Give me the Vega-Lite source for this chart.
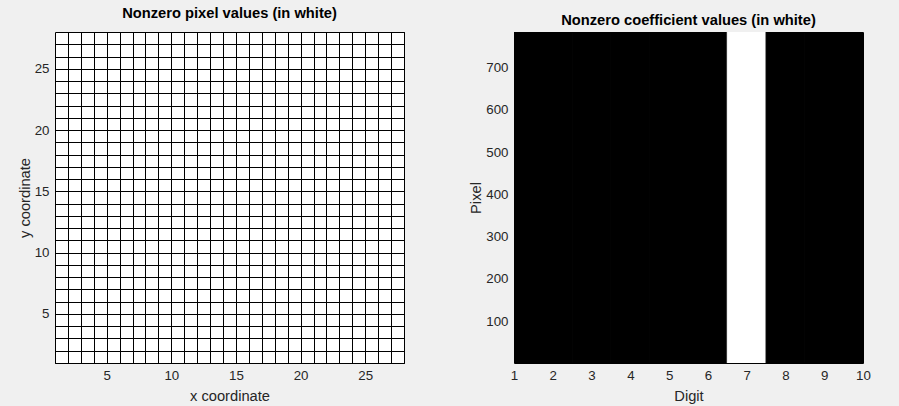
{
  "$schema": "https://vega.github.io/schema/vega-lite/v6.json",
  "background": "#f0f0f0",
  "padding": {"left": 16, "top": 5, "right": 37, "bottom": 5},
  "spacing": 110,
  "bounds": "flush",
  "config": {
    "view": {"stroke": "black", "strokeWidth": 1},
    "axis": {
      "labelFont": "Liberation Sans",
      "labelFontSize": 13.3,
      "labelColor": "#262626",
      "titleFont": "Liberation Sans",
      "titleFontSize": 14.7,
      "titleFontWeight": "normal",
      "titleColor": "#262626",
      "ticks": false,
      "tickSize": 0,
      "domain": false,
      "labelFlush": false,
      "labelOverlap": false,
      "labelPadding": 5
    },
    "axisY": {"labelPadding": 6, "titlePadding": 2},
    "axisX": {"titlePadding": 7},
    "title": {"font": "Liberation Sans", "fontSize": 14.7, "fontWeight": "bold", "color": "black", "offset": 0}
  },
  "hconcat": [
    {
      "width": 349,
      "height": 331,
      "title": "Nonzero pixel values (in white)",
      "data": {"values": [{"x": 1, "x2": 28, "y": 1, "y2": 28, "value": 1}]},
      "mark": {"type": "rect", "fill": "white", "stroke": null},
      "encoding": {
        "x": {
          "field": "x", "type": "quantitative",
          "scale": {"domain": [1, 28], "nice": false, "zero": false},
          "axis": {
            "title": "x coordinate",
            "values": [1,2,3,4,5,6,7,8,9,10,11,12,13,14,15,16,17,18,19,20,21,22,23,24,25,26,27,28],
            "labelExpr": "datum.value % 5 == 0 ? datum.label : ''",
            "grid": true, "gridColor": "black", "gridOpacity": 1, "gridWidth": 1, "zindex": 1
          }
        },
        "x2": {"field": "x2"},
        "y": {
          "field": "y", "type": "quantitative",
          "scale": {"domain": [1, 28], "nice": false, "zero": false},
          "axis": {
            "title": "y coordinate",
            "values": [1,2,3,4,5,6,7,8,9,10,11,12,13,14,15,16,17,18,19,20,21,22,23,24,25,26,27,28],
            "labelExpr": "datum.value % 5 == 0 ? datum.label : ''",
            "grid": true, "gridColor": "black", "gridOpacity": 1, "gridWidth": 1, "zindex": 1
          }
        },
        "y2": {"field": "y2"}
      }
    },
    {
      "width": 349,
      "height": 331,
      "title": "Nonzero coefficient values (in white)",
      "data": {"values": [
        {"digit": 1, "lo": 0.5, "hi": 1.5, "p0": 0.5, "p1": 784.5, "nonzero": 0},
        {"digit": 2, "lo": 1.5, "hi": 2.5, "p0": 0.5, "p1": 784.5, "nonzero": 0},
        {"digit": 3, "lo": 2.5, "hi": 3.5, "p0": 0.5, "p1": 784.5, "nonzero": 0},
        {"digit": 4, "lo": 3.5, "hi": 4.5, "p0": 0.5, "p1": 784.5, "nonzero": 0},
        {"digit": 5, "lo": 4.5, "hi": 5.5, "p0": 0.5, "p1": 784.5, "nonzero": 0},
        {"digit": 6, "lo": 5.5, "hi": 6.5, "p0": 0.5, "p1": 784.5, "nonzero": 0},
        {"digit": 7, "lo": 6.5, "hi": 7.5, "p0": 0.5, "p1": 784.5, "nonzero": 1},
        {"digit": 8, "lo": 7.5, "hi": 8.5, "p0": 0.5, "p1": 784.5, "nonzero": 0},
        {"digit": 9, "lo": 8.5, "hi": 9.5, "p0": 0.5, "p1": 784.5, "nonzero": 0},
        {"digit": 10, "lo": 9.5, "hi": 10.5, "p0": 0.5, "p1": 784.5, "nonzero": 0}
      ]},
      "mark": {"type": "rect", "clip": true, "strokeWidth": 1},
      "encoding": {
        "x": {
          "field": "lo", "type": "quantitative",
          "scale": {"domain": [1, 10], "nice": false, "zero": false},
          "axis": {"title": "Digit", "values": [1,2,3,4,5,6,7,8,9,10], "grid": false}
        },
        "x2": {"field": "hi"},
        "y": {
          "field": "p0", "type": "quantitative",
          "scale": {"domain": [1, 784], "nice": false, "zero": false},
          "axis": {"title": "Pixel", "values": [100,200,300,400,500,600,700], "grid": false}
        },
        "y2": {"field": "p1"},
        "fill": {
          "field": "nonzero", "type": "nominal",
          "scale": {"domain": [0, 1], "range": ["black", "white"]},
          "legend": null
        },
        "stroke": {
          "field": "nonzero", "type": "nominal",
          "scale": {"domain": [0, 1], "range": ["black", "white"]},
          "legend": null
        }
      }
    }
  ]
}
